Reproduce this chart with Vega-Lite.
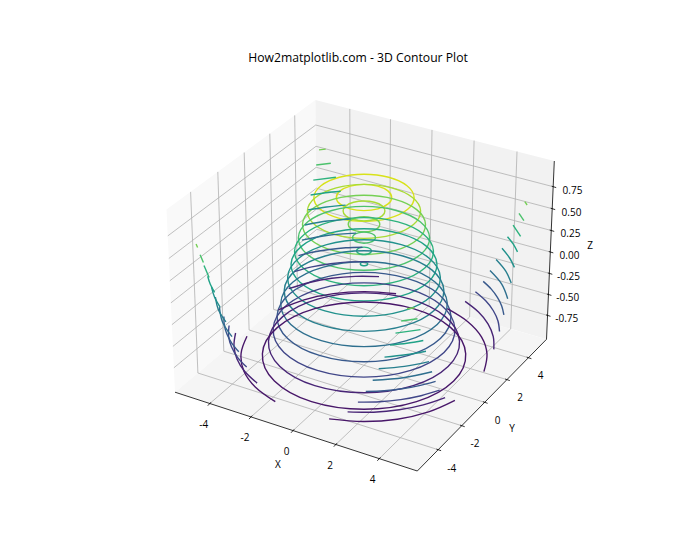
{"$schema":"https://vega.github.io/schema/vega-lite/v6.json","width":700,"height":560,"padding":0,"autosize":{"type":"none"},"background":"white",
"title":{"text":"How2matplotlib.com - 3D Contour Plot","fontSize":12.2,"fontWeight":"normal","color":"#000000","font":"Open Sans","anchor":"middle","dx":8,"offset":-64},
"config":{"view":{"stroke":null}},
"resolve":{"scale":{"color":"independent"}},
"datasets":{
"panes":[
{"p":"left","x":166.5,"y":209.5,"y2":209.5},{"p":"left","x":175,"y":203.3,"y2":392.2},{"p":"left","x":315.4,"y":100.1,"y2":274.3},{"p":"left","x":317.3,"y":272.7,"y2":272.7},
{"p":"back","x":315.4,"y":100.1,"y2":100.1},{"p":"back","x":317.3,"y":100.6,"y2":272.7},{"p":"back","x":546.5,"y":159,"y2":339.3},{"p":"back","x":554.3,"y":161,"y2":161},
{"p":"floor","x":175,"y":392.2,"y2":392.2},{"p":"floor","x":317.3,"y":272.7,"y2":438.5},{"p":"floor","x":417.3,"y":301.8,"y2":471},{"p":"floor","x":546.5,"y":339.3,"y2":339.3}],
"grid":[
{"g":"x-4","i":0,"x":209.8,"y":403.5},{"g":"x-4","i":1,"x":350.4,"y":282.3},{"g":"x-4","i":2,"x":349.8,"y":108.9},
{"g":"x-2","i":0,"x":251,"y":416.9},{"g":"x-2","i":1,"x":389.5,"y":293.7},{"g":"x-2","i":2,"x":390.5,"y":119.3},
{"g":"x0","i":0,"x":293,"y":430.6},{"g":"x0","i":1,"x":429.2,"y":305.3},{"g":"x0","i":2,"x":432,"y":129.9},
{"g":"x2","i":0,"x":335.8,"y":444.5},{"g":"x2","i":1,"x":469.6,"y":317},{"g":"x2","i":2,"x":474.1,"y":140.6},
{"g":"x4","i":0,"x":379.3,"y":458.6},{"g":"x4","i":1,"x":510.7,"y":328.9},{"g":"x4","i":2,"x":517,"y":151.5},
{"g":"y-4","i":0,"x":438.1,"y":449.7},{"g":"y-4","i":1,"x":197.9,"y":373},{"g":"y-4","i":2,"x":190.6,"y":191.9},
{"g":"y-2","i":0,"x":461.7,"y":425.7},{"g":"y-2","i":1,"x":223.8,"y":351.2},{"g":"y-2","i":2,"x":217.8,"y":171.9},
{"g":"y0","i":0,"x":484.6,"y":402.3},{"g":"y0","i":1,"x":249.1,"y":330},{"g":"y0","i":2,"x":244.2,"y":152.5},
{"g":"y2","i":0,"x":506.8,"y":379.6},{"g":"y2","i":1,"x":273.6,"y":309.4},{"g":"y2","i":2,"x":269.8,"y":133.7},
{"g":"y4","i":0,"x":528.4,"y":357.7},{"g":"y4","i":1,"x":297.4,"y":289.4},{"g":"y4","i":2,"x":294.7,"y":115.4},
{"g":"z.75","i":0,"x":167.8,"y":235.9},{"g":"z.75","i":1,"x":315.7,"y":125},{"g":"z.75","i":2,"x":553.2,"y":186.7},
{"g":"z.5","i":0,"x":168.8,"y":258.5},{"g":"z.5","i":1,"x":316,"y":146.3},{"g":"z.5","i":2,"x":552.2,"y":208.7},
{"g":"z.25","i":0,"x":169.8,"y":280.8},{"g":"z.25","i":1,"x":316.2,"y":167.3},{"g":"z.25","i":2,"x":551.2,"y":230.5},
{"g":"z0","i":0,"x":170.9,"y":302.9},{"g":"z0","i":1,"x":316.4,"y":188.2},{"g":"z0","i":2,"x":550.3,"y":252},
{"g":"z-.25","i":0,"x":171.9,"y":324.7},{"g":"z-.25","i":1,"x":316.7,"y":208.9},{"g":"z-.25","i":2,"x":549.3,"y":273.4},
{"g":"z-.5","i":0,"x":172.9,"y":346.4},{"g":"z-.5","i":1,"x":316.9,"y":229.3},{"g":"z-.5","i":2,"x":548.4,"y":294.5},
{"g":"z-.75","i":0,"x":173.9,"y":367.8},{"g":"z-.75","i":1,"x":317.1,"y":249.6},{"g":"z-.75","i":2,"x":547.5,"y":315.4}],
"axes":[
{"g":"X","i":0,"x":175,"y":392.2},{"g":"X","i":1,"x":417.3,"y":471},
{"g":"Y","i":0,"x":417.3,"y":471},{"g":"Y","i":1,"x":546.5,"y":339.3},
{"g":"Z","i":0,"x":546.5,"y":339.3},{"g":"Z","i":1,"x":554.3,"y":161},
{"g":"tx-4","i":0,"x":207.8,"y":405.7},{"g":"tx-4","i":1,"x":211,"y":402.2},
{"g":"tx-2","i":0,"x":249,"y":419.1},{"g":"tx-2","i":1,"x":252.2,"y":415.6},
{"g":"tx0","i":0,"x":291,"y":432.8},{"g":"tx0","i":1,"x":294.2,"y":429.3},
{"g":"tx2","i":0,"x":333.8,"y":446.7},{"g":"tx2","i":1,"x":337,"y":443.2},
{"g":"tx4","i":0,"x":377.3,"y":460.8},{"g":"tx4","i":1,"x":380.5,"y":457.3},
{"g":"ty-4","i":0,"x":436.4,"y":449.1},{"g":"ty-4","i":1,"x":441.1,"y":450.7},
{"g":"ty-2","i":0,"x":460,"y":425.1},{"g":"ty-2","i":1,"x":464.7,"y":426.7},
{"g":"ty0","i":0,"x":482.9,"y":401.7},{"g":"ty0","i":1,"x":487.6,"y":403.3},
{"g":"ty2","i":0,"x":505.1,"y":379},{"g":"ty2","i":1,"x":509.8,"y":380.6},
{"g":"ty4","i":0,"x":526.7,"y":357.1},{"g":"ty4","i":1,"x":531.4,"y":358.7},
{"g":"tz.75","i":0,"x":551.7,"y":186.2},{"g":"tz.75","i":1,"x":556.2,"y":187.6},
{"g":"tz.5","i":0,"x":550.7,"y":208.2},{"g":"tz.5","i":1,"x":555.2,"y":209.6},
{"g":"tz.25","i":0,"x":549.7,"y":230},{"g":"tz.25","i":1,"x":554.2,"y":231.4},
{"g":"tz0","i":0,"x":548.8,"y":251.5},{"g":"tz0","i":1,"x":553.3,"y":252.9},
{"g":"tz-.25","i":0,"x":547.8,"y":272.9},{"g":"tz-.25","i":1,"x":552.3,"y":274.3},
{"g":"tz-.5","i":0,"x":546.9,"y":294},{"g":"tz-.5","i":1,"x":551.4,"y":295.4},
{"g":"tz-.75","i":0,"x":546,"y":314.9},{"g":"tz-.75","i":1,"x":550.5,"y":316.3}],
"labels":[
{"t":"-4","x":203.7,"y":424.3},{"t":"-2","x":245,"y":437.3},{"t":"0","x":286.7,"y":451},{"t":"2","x":330,"y":465},{"t":"4","x":372.7,"y":479},{"t":"X","x":278,"y":464},
{"t":"-4","x":451.7,"y":468.3},{"t":"-2","x":475,"y":443.3},{"t":"0","x":497.7,"y":420},{"t":"2","x":520,"y":397.3},{"t":"4","x":540.7,"y":375},{"t":"Y","x":512,"y":428},
{"t":"0.75","x":572.5,"y":190},{"t":"0.50","x":571.5,"y":211.7},{"t":"0.25","x":570.5,"y":233},{"t":"0.00","x":569.5,"y":255},{"t":"-0.25","x":568.5,"y":276},{"t":"-0.50","x":567.7,"y":296.7},{"t":"-0.75","x":566.7,"y":318.3},{"t":"Z","x":590,"y":245}],
"contours":[
{"c":"a1","l":-0.9,"i":0,"x":483.9,"y":371.6},{"c":"a1","l":-0.9,"i":1,"x":487,"y":354.1},{"c":"a1","l":-0.9,"i":2,"x":481.6,"y":337.1},{"c":"a1","l":-0.9,"i":3,"x":467.8,"y":321.7},{"c":"a1","l":-0.9,"i":4,"x":447.3,"y":308.7},
{"c":"b1","l":-0.9,"i":0,"x":278.5,"y":309.8},{"c":"b1","l":-0.9,"i":1,"x":304.1,"y":299.8},{"c":"b1","l":-0.9,"i":2,"x":333.4,"y":293.6},{"c":"b1","l":-0.9,"i":3,"x":364.7,"y":291.6},{"c":"b1","l":-0.9,"i":4,"x":396.1,"y":293.8},
{"c":"d1","l":-0.9,"i":0,"x":247,"y":336.3},{"c":"d1","l":-0.9,"i":1,"x":241.1,"y":353.3},{"c":"d1","l":-0.9,"i":2,"x":243.7,"y":370.7},{"c":"d1","l":-0.9,"i":3,"x":255.5,"y":387.2},{"c":"d1","l":-0.9,"i":4,"x":275.3,"y":401.7},
{"c":"f1","l":-0.9,"i":0,"x":454.9,"y":400.4},{"c":"f1","l":-0.9,"i":1,"x":428.6,"y":411.9},{"c":"f1","l":-0.9,"i":2,"x":397.3,"y":419.2},{"c":"f1","l":-0.9,"i":3,"x":363.2,"y":421.5},{"c":"f1","l":-0.9,"i":4,"x":329.1,"y":418.9},
{"c":"a2","l":-0.75,"i":0,"x":493.8,"y":349.4},{"c":"a2","l":-0.75,"i":1,"x":493.2,"y":336.4},{"c":"a2","l":-0.75,"i":2,"x":488,"y":323.8},{"c":"a2","l":-0.75,"i":3,"x":478.5,"y":312},{"c":"a2","l":-0.75,"i":4,"x":465.1,"y":301.4},
{"c":"b2","l":-0.75,"i":0,"x":288.7,"y":288.7},{"c":"b2","l":-0.75,"i":1,"x":309.4,"y":282.5},{"c":"b2","l":-0.75,"i":2,"x":331.8,"y":278.3},{"c":"b2","l":-0.75,"i":3,"x":355.3,"y":276.4},{"c":"b2","l":-0.75,"i":4,"x":379,"y":276.6},
{"c":"d2","l":-0.75,"i":0,"x":235.6,"y":333},{"c":"d2","l":-0.75,"i":1,"x":234,"y":345.9},{"c":"d2","l":-0.75,"i":2,"x":237,"y":358.9},{"c":"d2","l":-0.75,"i":3,"x":244.8,"y":371.5},{"c":"d2","l":-0.75,"i":4,"x":257.1,"y":383.1},
{"c":"f2","l":-0.75,"i":0,"x":445.1,"y":397.6},{"c":"f2","l":-0.75,"i":1,"x":423.3,"y":404.9},{"c":"f2","l":-0.75,"i":2,"x":399.2,"y":409.8},{"c":"f2","l":-0.75,"i":3,"x":373.6,"y":412.2},{"c":"f2","l":-0.75,"i":4,"x":347.6,"y":411.9},
{"c":"a3","l":-0.6,"i":0,"x":499.5,"y":331.5},{"c":"a3","l":-0.6,"i":1,"x":497.9,"y":320.8},{"c":"a3","l":-0.6,"i":2,"x":493.2,"y":310.5},{"c":"a3","l":-0.6,"i":3,"x":485.7,"y":300.8},{"c":"a3","l":-0.6,"i":4,"x":475.4,"y":291.8},
{"c":"b3","l":-0.6,"i":0,"x":294.3,"y":271.6},{"c":"b3","l":-0.6,"i":1,"x":311.8,"y":266.9},{"c":"b3","l":-0.6,"i":2,"x":330.5,"y":263.7},{"c":"b3","l":-0.6,"i":3,"x":349.9,"y":261.9},{"c":"b3","l":-0.6,"i":4,"x":369.5,"y":261.6},
{"c":"d3","l":-0.6,"i":0,"x":229.1,"y":325.5},{"c":"d3","l":-0.6,"i":1,"x":228.6,"y":336.2},{"c":"d3","l":-0.6,"i":2,"x":231.5,"y":346.8},{"c":"d3","l":-0.6,"i":3,"x":237.5,"y":357.3},{"c":"d3","l":-0.6,"i":4,"x":246.7,"y":367.1},
{"c":"f3","l":-0.6,"i":0,"x":439.7,"y":390.2},{"c":"f3","l":-0.6,"i":1,"x":421,"y":395.7},{"c":"f3","l":-0.6,"i":2,"x":400.7,"y":399.6},{"c":"f3","l":-0.6,"i":3,"x":379.6,"y":401.8},{"c":"f3","l":-0.6,"i":4,"x":357.9,"y":402.1},
{"c":"a4","l":-0.45,"i":0,"x":503.9,"y":314.8},{"c":"a4","l":-0.45,"i":1,"x":501.7,"y":305.9},{"c":"a4","l":-0.45,"i":2,"x":497.4,"y":297.3},{"c":"a4","l":-0.45,"i":3,"x":491.3,"y":289.1},{"c":"a4","l":-0.45,"i":4,"x":483.2,"y":281.4},
{"c":"b4","l":-0.45,"i":0,"x":298.4,"y":255.6},{"c":"b4","l":-0.45,"i":1,"x":313.6,"y":252},{"c":"b4","l":-0.45,"i":2,"x":329.5,"y":249.5},{"c":"b4","l":-0.45,"i":3,"x":345.7,"y":247.8},{"c":"b4","l":-0.45,"i":4,"x":362.4,"y":247.2},
{"c":"d4","l":-0.45,"i":0,"x":223.9,"y":316.6},{"c":"d4","l":-0.45,"i":1,"x":224.4,"y":325.6},{"c":"d4","l":-0.45,"i":2,"x":227.1,"y":334.6},{"c":"d4","l":-0.45,"i":3,"x":231.9,"y":343.3},{"c":"d4","l":-0.45,"i":4,"x":238.8,"y":351.8},
{"c":"f4","l":-0.45,"i":0,"x":435.6,"y":381.4},{"c":"f4","l":-0.45,"i":1,"x":419.3,"y":385.6},{"c":"f4","l":-0.45,"i":2,"x":402,"y":388.7},{"c":"f4","l":-0.45,"i":3,"x":384.2,"y":390.7},{"c":"f4","l":-0.45,"i":4,"x":365.8,"y":391.4},
{"c":"a5","l":-0.3,"i":0,"x":507.7,"y":298.7},{"c":"a5","l":-0.3,"i":1,"x":501.7,"y":284.1},{"c":"a5","l":-0.3,"i":2,"x":490,"y":270.6},
{"c":"b5","l":-0.3,"i":0,"x":301.9,"y":240.1},{"c":"b5","l":-0.3,"i":1,"x":328.4,"y":235.2},{"c":"b5","l":-0.3,"i":2,"x":356.2,"y":233.1},
{"c":"d5","l":-0.3,"i":0,"x":219.4,"y":307.1},{"c":"d5","l":-0.3,"i":1,"x":222.6,"y":322.2},{"c":"d5","l":-0.3,"i":2,"x":232,"y":336.7},
{"c":"f5","l":-0.3,"i":0,"x":432.1,"y":371.7},{"c":"f5","l":-0.3,"i":1,"x":403.3,"y":377.7},{"c":"f5","l":-0.3,"i":2,"x":372.7,"y":380.3},
{"c":"a6","l":-0.15,"i":0,"x":511.2,"y":283},{"c":"a6","l":-0.15,"i":1,"x":505.6,"y":270.8},{"c":"a6","l":-0.15,"i":2,"x":496.1,"y":259.4},
{"c":"b6","l":-0.15,"i":0,"x":305,"y":225},{"c":"b6","l":-0.15,"i":1,"x":327.4,"y":221},{"c":"b6","l":-0.15,"i":2,"x":350.8,"y":219.1},
{"c":"d6","l":-0.15,"i":0,"x":215.4,"y":297},{"c":"d6","l":-0.15,"i":1,"x":218.4,"y":309.7},{"c":"d6","l":-0.15,"i":2,"x":225.9,"y":321.9},
{"c":"f6","l":-0.15,"i":0,"x":429,"y":361.6},{"c":"f6","l":-0.15,"i":1,"x":404.5,"y":366.4},{"c":"f6","l":-0.15,"i":2,"x":378.7,"y":368.8},
{"c":"a7","l":0,"i":0,"x":514.4,"y":267.4},{"c":"a7","l":0,"i":1,"x":509.3,"y":257.5},{"c":"a7","l":0,"i":2,"x":502,"y":248.2},
{"c":"b7","l":0,"i":0,"x":307.9,"y":209.9},{"c":"b7","l":0,"i":1,"x":326.5,"y":207},{"c":"b7","l":0,"i":2,"x":345.6,"y":205.1},
{"c":"d7","l":0,"i":0,"x":211.5,"y":286.8},{"c":"d7","l":0,"i":1,"x":214.5,"y":297},{"c":"d7","l":0,"i":2,"x":220.1,"y":307.1},
{"c":"f7","l":0,"i":0,"x":426,"y":351.2},{"c":"f7","l":0,"i":1,"x":405.7,"y":354.8},{"c":"f7","l":0,"i":2,"x":384.5,"y":357.1},
{"c":"a8","l":0.15,"i":0,"x":517.5,"y":251.9},{"c":"a8","l":0.15,"i":1,"x":513.3,"y":244.1},{"c":"a8","l":0.15,"i":2,"x":507.5,"y":236.7},
{"c":"b8","l":0.15,"i":0,"x":310.6,"y":195},{"c":"b8","l":0.15,"i":1,"x":325.5,"y":192.7},{"c":"b8","l":0.15,"i":2,"x":340.7,"y":191.2},
{"c":"d8","l":0.15,"i":0,"x":207.7,"y":276.2},{"c":"d8","l":0.15,"i":1,"x":210.3,"y":284.3},{"c":"d8","l":0.15,"i":2,"x":214.6,"y":292.3},
{"c":"f8","l":0.15,"i":0,"x":423.3,"y":340.5},{"c":"f8","l":0.15,"i":1,"x":406.9,"y":343.3},{"c":"f8","l":0.15,"i":2,"x":390,"y":345.1},
{"c":"a9","l":0.3,"i":0,"x":520.6,"y":236.4},{"c":"a9","l":0.3,"i":1,"x":513.1,"y":225.1},
{"c":"b9","l":0.3,"i":0,"x":313.3,"y":180.1},{"c":"b9","l":0.3,"i":1,"x":335.9,"y":177.3},
{"c":"d9","l":0.3,"i":0,"x":204,"y":265.5},{"c":"d9","l":0.3,"i":1,"x":209.1,"y":277.5},
{"c":"f9","l":0.3,"i":0,"x":420.5,"y":329.6},{"c":"f9","l":0.3,"i":1,"x":395.5,"y":333.1},
{"c":"a10","l":0.45,"i":0,"x":523.9,"y":220.7},{"c":"a10","l":0.45,"i":1,"x":519,"y":213.4},
{"c":"b10","l":0.45,"i":0,"x":316.2,"y":165},{"c":"b10","l":0.45,"i":1,"x":330.8,"y":163.2},
{"c":"d10","l":0.45,"i":0,"x":200.1,"y":254.8},{"c":"d10","l":0.45,"i":1,"x":203.4,"y":262.6},
{"c":"f10","l":0.45,"i":0,"x":417.5,"y":318.8},{"c":"f10","l":0.45,"i":1,"x":401.2,"y":321},
{"c":"a11","l":0.6,"i":0,"x":527.1,"y":205},{"c":"a11","l":0.6,"i":1,"x":524.8,"y":201.7},
{"c":"b11","l":0.6,"i":0,"x":319,"y":149.9},{"c":"b11","l":0.6,"i":1,"x":325.7,"y":149.1},
{"c":"d11","l":0.6,"i":0,"x":196.1,"y":244},{"c":"d11","l":0.6,"i":1,"x":197.6,"y":247.5},
{"c":"f11","l":0.6,"i":0,"x":414.5,"y":307.8},{"c":"f11","l":0.6,"i":1,"x":407.1,"y":308.8}],
"rings":[
{"c":"o90","l":0.9,"i":0,"x":414.1,"y":197.4},{"c":"o90","l":0.9,"i":1,"x":407,"y":185.7},{"c":"o90","l":0.9,"i":2,"x":388.7,"y":177.2},{"c":"o90","l":0.9,"i":3,"x":364,"y":174.2},{"c":"o90","l":0.9,"i":4,"x":339.4,"y":177.2},{"c":"o90","l":0.9,"i":5,"x":321,"y":185.7},{"c":"o90","l":0.9,"i":6,"x":313.9,"y":197.4},{"c":"o90","l":0.9,"i":7,"x":320.3,"y":209.3},{"c":"o90","l":0.9,"i":8,"x":338.6,"y":218.1},{"c":"o90","l":0.9,"i":9,"x":364,"y":221.4},{"c":"o90","l":0.9,"i":10,"x":389.4,"y":218.1},{"c":"o90","l":0.9,"i":11,"x":407.7,"y":209.3},
{"c":"i90","l":0.9,"i":0,"x":391.7,"y":197.4},{"c":"i90","l":0.9,"i":1,"x":387.9,"y":190.9},{"c":"i90","l":0.9,"i":2,"x":377.7,"y":186.1},{"c":"i90","l":0.9,"i":3,"x":364,"y":184.4},{"c":"i90","l":0.9,"i":4,"x":350.3,"y":186.1},{"c":"i90","l":0.9,"i":5,"x":340.1,"y":190.9},{"c":"i90","l":0.9,"i":6,"x":336.3,"y":197.4},{"c":"i90","l":0.9,"i":7,"x":339.9,"y":203.9},{"c":"i90","l":0.9,"i":8,"x":350,"y":208.8},{"c":"i90","l":0.9,"i":9,"x":364,"y":210.6},{"c":"i90","l":0.9,"i":10,"x":378,"y":208.8},{"c":"i90","l":0.9,"i":11,"x":388.1,"y":203.9},
{"c":"o75","l":0.75,"i":0,"x":420.6,"y":210.9},{"c":"o75","l":0.75,"i":1,"x":412.5,"y":197.5},{"c":"o75","l":0.75,"i":2,"x":391.8,"y":187.9},{"c":"o75","l":0.75,"i":3,"x":364,"y":184.4},{"c":"o75","l":0.75,"i":4,"x":336.2,"y":187.9},{"c":"o75","l":0.75,"i":5,"x":315.5,"y":197.5},{"c":"o75","l":0.75,"i":6,"x":307.4,"y":210.9},{"c":"o75","l":0.75,"i":7,"x":314.5,"y":224.5},{"c":"o75","l":0.75,"i":8,"x":335.2,"y":234.6},{"c":"o75","l":0.75,"i":9,"x":364,"y":238.4},{"c":"o75","l":0.75,"i":10,"x":392.8,"y":234.6},{"c":"o75","l":0.75,"i":11,"x":413.5,"y":224.5},
{"c":"i75","l":0.75,"i":0,"x":384.9,"y":210.9},{"c":"i75","l":0.75,"i":1,"x":382.1,"y":205.9},{"c":"i75","l":0.75,"i":2,"x":374.4,"y":202.3},{"c":"i75","l":0.75,"i":3,"x":364,"y":201},{"c":"i75","l":0.75,"i":4,"x":353.6,"y":202.3},{"c":"i75","l":0.75,"i":5,"x":345.9,"y":205.9},{"c":"i75","l":0.75,"i":6,"x":343.1,"y":210.9},{"c":"i75","l":0.75,"i":7,"x":345.8,"y":215.9},{"c":"i75","l":0.75,"i":8,"x":353.5,"y":219.5},{"c":"i75","l":0.75,"i":9,"x":364,"y":220.9},{"c":"i75","l":0.75,"i":10,"x":374.5,"y":219.5},{"c":"i75","l":0.75,"i":11,"x":382.2,"y":215.9},
{"c":"o60","l":0.6,"i":0,"x":425.5,"y":224.2},{"c":"o60","l":0.6,"i":1,"x":416.7,"y":209.6},{"c":"o60","l":0.6,"i":2,"x":394.2,"y":199.1},{"c":"o60","l":0.6,"i":3,"x":364,"y":195.3},{"c":"o60","l":0.6,"i":4,"x":333.8,"y":199.1},{"c":"o60","l":0.6,"i":5,"x":311.4,"y":209.6},{"c":"o60","l":0.6,"i":6,"x":302.5,"y":224.2},{"c":"o60","l":0.6,"i":7,"x":310.2,"y":239.2},{"c":"o60","l":0.6,"i":8,"x":332.7,"y":250.4},{"c":"o60","l":0.6,"i":9,"x":364,"y":254.5},{"c":"o60","l":0.6,"i":10,"x":395.3,"y":250.4},{"c":"o60","l":0.6,"i":11,"x":417.8,"y":239.2},
{"c":"i60","l":0.6,"i":0,"x":379.8,"y":224.2},{"c":"i60","l":0.6,"i":1,"x":377.7,"y":220.4},{"c":"i60","l":0.6,"i":2,"x":371.9,"y":217.7},{"c":"i60","l":0.6,"i":3,"x":364,"y":216.7},{"c":"i60","l":0.6,"i":4,"x":356.1,"y":217.7},{"c":"i60","l":0.6,"i":5,"x":350.3,"y":220.4},{"c":"i60","l":0.6,"i":6,"x":348.2,"y":224.2},{"c":"i60","l":0.6,"i":7,"x":350.3,"y":228.1},{"c":"i60","l":0.6,"i":8,"x":356,"y":230.9},{"c":"i60","l":0.6,"i":9,"x":364,"y":231.9},{"c":"i60","l":0.6,"i":10,"x":372,"y":230.9},{"c":"i60","l":0.6,"i":11,"x":377.8,"y":228.1},
{"c":"o45","l":0.45,"i":0,"x":429.6,"y":237.6},{"c":"o45","l":0.45,"i":1,"x":420.2,"y":221.8},{"c":"o45","l":0.45,"i":2,"x":396.2,"y":210.5},{"c":"o45","l":0.45,"i":3,"x":364,"y":206.4},{"c":"o45","l":0.45,"i":4,"x":331.9,"y":210.5},{"c":"o45","l":0.45,"i":5,"x":307.8,"y":221.8},{"c":"o45","l":0.45,"i":6,"x":298.4,"y":237.6},{"c":"o45","l":0.45,"i":7,"x":306.5,"y":253.7},{"c":"o45","l":0.45,"i":8,"x":330.5,"y":265.8},{"c":"o45","l":0.45,"i":9,"x":364,"y":270.2},{"c":"o45","l":0.45,"i":10,"x":397.5,"y":265.8},{"c":"o45","l":0.45,"i":11,"x":421.5,"y":253.7},
{"c":"i45","l":0.45,"i":0,"x":375.5,"y":237.6},{"c":"i45","l":0.45,"i":1,"x":373.9,"y":234.8},{"c":"i45","l":0.45,"i":2,"x":369.7,"y":232.8},{"c":"i45","l":0.45,"i":3,"x":364,"y":232},{"c":"i45","l":0.45,"i":4,"x":358.3,"y":232.8},{"c":"i45","l":0.45,"i":5,"x":354.1,"y":234.8},{"c":"i45","l":0.45,"i":6,"x":352.6,"y":237.6},{"c":"i45","l":0.45,"i":7,"x":354.1,"y":240.4},{"c":"i45","l":0.45,"i":8,"x":358.3,"y":242.4},{"c":"i45","l":0.45,"i":9,"x":364,"y":243.2},{"c":"i45","l":0.45,"i":10,"x":369.7,"y":242.4},{"c":"i45","l":0.45,"i":11,"x":373.9,"y":240.4},
{"c":"o30","l":0.3,"i":0,"x":433.4,"y":250.8},{"c":"o30","l":0.3,"i":1,"x":423.3,"y":234},{"c":"o30","l":0.3,"i":2,"x":398,"y":221.9},{"c":"o30","l":0.3,"i":3,"x":364,"y":217.6},{"c":"o30","l":0.3,"i":4,"x":330,"y":221.9},{"c":"o30","l":0.3,"i":5,"x":304.7,"y":234},{"c":"o30","l":0.3,"i":6,"x":294.6,"y":250.8},{"c":"o30","l":0.3,"i":7,"x":303.2,"y":268},{"c":"o30","l":0.3,"i":8,"x":328.6,"y":280.9},{"c":"o30","l":0.3,"i":9,"x":364,"y":285.7},{"c":"o30","l":0.3,"i":10,"x":399.4,"y":280.9},{"c":"o30","l":0.3,"i":11,"x":424.8,"y":268},
{"c":"i30","l":0.3,"i":0,"x":371.5,"y":250.8},{"c":"i30","l":0.3,"i":1,"x":370.4,"y":249},{"c":"i30","l":0.3,"i":2,"x":367.7,"y":247.6},{"c":"i30","l":0.3,"i":3,"x":364,"y":247.1},{"c":"i30","l":0.3,"i":4,"x":360.3,"y":247.6},{"c":"i30","l":0.3,"i":5,"x":357.6,"y":249},{"c":"i30","l":0.3,"i":6,"x":356.6,"y":250.8},{"c":"i30","l":0.3,"i":7,"x":357.5,"y":252.6},{"c":"i30","l":0.3,"i":8,"x":360.3,"y":254},{"c":"i30","l":0.3,"i":9,"x":364,"y":254.5},{"c":"i30","l":0.3,"i":10,"x":367.7,"y":254},{"c":"i30","l":0.3,"i":11,"x":370.5,"y":252.6},
{"c":"o15","l":0.15,"i":0,"x":436.9,"y":263.9},{"c":"o15","l":0.15,"i":1,"x":426.3,"y":246.1},{"c":"o15","l":0.15,"i":2,"x":399.7,"y":233.4},{"c":"o15","l":0.15,"i":3,"x":364,"y":228.7},{"c":"o15","l":0.15,"i":4,"x":328.4,"y":233.4},{"c":"o15","l":0.15,"i":5,"x":301.7,"y":246.1},{"c":"o15","l":0.15,"i":6,"x":291.1,"y":263.9},{"c":"o15","l":0.15,"i":7,"x":300,"y":282.2},{"c":"o15","l":0.15,"i":8,"x":326.7,"y":295.9},{"c":"o15","l":0.15,"i":9,"x":364,"y":301},{"c":"o15","l":0.15,"i":10,"x":401.3,"y":295.9},{"c":"o15","l":0.15,"i":11,"x":428,"y":282.2},
{"c":"i15","l":0.15,"i":0,"x":367.7,"y":263.9},{"c":"i15","l":0.15,"i":1,"x":367.2,"y":263},{"c":"i15","l":0.15,"i":2,"x":365.8,"y":262.4},{"c":"i15","l":0.15,"i":3,"x":364,"y":262.1},{"c":"i15","l":0.15,"i":4,"x":362.2,"y":262.4},{"c":"i15","l":0.15,"i":5,"x":360.8,"y":263},{"c":"i15","l":0.15,"i":6,"x":360.3,"y":263.9},{"c":"i15","l":0.15,"i":7,"x":360.8,"y":264.9},{"c":"i15","l":0.15,"i":8,"x":362.2,"y":265.5},{"c":"i15","l":0.15,"i":9,"x":364,"y":265.8},{"c":"i15","l":0.15,"i":10,"x":365.8,"y":265.5},{"c":"i15","l":0.15,"i":11,"x":367.2,"y":264.9},
{"c":"o00","l":0,"i":0,"x":440.3,"y":277},{"c":"o00","l":0,"i":1,"x":429.2,"y":258.2},{"c":"o00","l":0,"i":2,"x":401.3,"y":244.7},{"c":"o00","l":0,"i":3,"x":364,"y":239.8},{"c":"o00","l":0,"i":4,"x":326.7,"y":244.7},{"c":"o00","l":0,"i":5,"x":298.8,"y":258.2},{"c":"o00","l":0,"i":6,"x":287.7,"y":277},{"c":"o00","l":0,"i":7,"x":297,"y":296.4},{"c":"o00","l":0,"i":8,"x":324.9,"y":310.9},{"c":"o00","l":0,"i":9,"x":364,"y":316.2},{"c":"o00","l":0,"i":10,"x":403.1,"y":310.9},{"c":"o00","l":0,"i":11,"x":431,"y":296.4},
{"c":"n15","l":-0.15,"i":0,"x":443.8,"y":290},{"c":"n15","l":-0.15,"i":1,"x":432.1,"y":270.1},{"c":"n15","l":-0.15,"i":2,"x":402.9,"y":256},{"c":"n15","l":-0.15,"i":3,"x":364,"y":250.8},{"c":"n15","l":-0.15,"i":4,"x":325.1,"y":256},{"c":"n15","l":-0.15,"i":5,"x":295.9,"y":270.1},{"c":"n15","l":-0.15,"i":6,"x":284.3,"y":290},{"c":"n15","l":-0.15,"i":7,"x":293.9,"y":310.4},{"c":"n15","l":-0.15,"i":8,"x":323.1,"y":325.7},{"c":"n15","l":-0.15,"i":9,"x":364,"y":331.4},{"c":"n15","l":-0.15,"i":10,"x":404.9,"y":325.7},{"c":"n15","l":-0.15,"i":11,"x":434.1,"y":310.4},
{"c":"n30","l":-0.3,"i":0,"x":447.2,"y":302.9},{"c":"n30","l":-0.3,"i":1,"x":435,"y":282},{"c":"n30","l":-0.3,"i":2,"x":404.6,"y":267.1},{"c":"n30","l":-0.3,"i":3,"x":364,"y":261.7},{"c":"n30","l":-0.3,"i":4,"x":323.4,"y":267.1},{"c":"n30","l":-0.3,"i":5,"x":293,"y":282},{"c":"n30","l":-0.3,"i":6,"x":280.8,"y":302.9},{"c":"n30","l":-0.3,"i":7,"x":290.8,"y":324.4},{"c":"n30","l":-0.3,"i":8,"x":321.3,"y":340.6},{"c":"n30","l":-0.3,"i":9,"x":364,"y":346.6},{"c":"n30","l":-0.3,"i":10,"x":406.7,"y":340.6},{"c":"n30","l":-0.3,"i":11,"x":437.2,"y":324.4},
{"c":"n45","l":-0.45,"i":0,"x":450.9,"y":315.7},{"c":"n45","l":-0.45,"i":1,"x":438.1,"y":293.7},{"c":"n45","l":-0.45,"i":2,"x":406.3,"y":278.1},{"c":"n45","l":-0.45,"i":3,"x":364,"y":272.4},{"c":"n45","l":-0.45,"i":4,"x":321.7,"y":278.1},{"c":"n45","l":-0.45,"i":5,"x":289.9,"y":293.7},{"c":"n45","l":-0.45,"i":6,"x":277.1,"y":315.7},{"c":"n45","l":-0.45,"i":7,"x":287.6,"y":338.4},{"c":"n45","l":-0.45,"i":8,"x":319.4,"y":355.4},{"c":"n45","l":-0.45,"i":9,"x":364,"y":361.8},{"c":"n45","l":-0.45,"i":10,"x":408.6,"y":355.4},{"c":"n45","l":-0.45,"i":11,"x":440.4,"y":338.4},
{"c":"n60","l":-0.6,"i":0,"x":454.9,"y":328.5},{"c":"n60","l":-0.6,"i":1,"x":441.4,"y":305.3},{"c":"n60","l":-0.6,"i":2,"x":408.2,"y":288.8},{"c":"n60","l":-0.6,"i":3,"x":364,"y":282.9},{"c":"n60","l":-0.6,"i":4,"x":319.8,"y":288.8},{"c":"n60","l":-0.6,"i":5,"x":286.6,"y":305.3},{"c":"n60","l":-0.6,"i":6,"x":273.2,"y":328.5},{"c":"n60","l":-0.6,"i":7,"x":284,"y":352.4},{"c":"n60","l":-0.6,"i":8,"x":317.3,"y":370.4},{"c":"n60","l":-0.6,"i":9,"x":364,"y":377.1},{"c":"n60","l":-0.6,"i":10,"x":410.7,"y":370.4},{"c":"n60","l":-0.6,"i":11,"x":444,"y":352.4},
{"c":"n75","l":-0.75,"i":0,"x":459.5,"y":341.1},{"c":"n75","l":-0.75,"i":1,"x":445.3,"y":316.6},{"c":"n75","l":-0.75,"i":2,"x":410.4,"y":299.1},{"c":"n75","l":-0.75,"i":3,"x":364,"y":292.9},{"c":"n75","l":-0.75,"i":4,"x":317.6,"y":299.1},{"c":"n75","l":-0.75,"i":5,"x":282.7,"y":316.6},{"c":"n75","l":-0.75,"i":6,"x":268.5,"y":341.1},{"c":"n75","l":-0.75,"i":7,"x":279.9,"y":366.5},{"c":"n75","l":-0.75,"i":8,"x":314.8,"y":385.7},{"c":"n75","l":-0.75,"i":9,"x":364,"y":392.8},{"c":"n75","l":-0.75,"i":10,"x":413.2,"y":385.7},{"c":"n75","l":-0.75,"i":11,"x":448.1,"y":366.5},
{"c":"n90","l":-0.9,"i":0,"x":465.7,"y":353.7},{"c":"n90","l":-0.9,"i":1,"x":450.5,"y":327.4},{"c":"n90","l":-0.9,"i":2,"x":413.3,"y":308.7},{"c":"n90","l":-0.9,"i":3,"x":364,"y":302},{"c":"n90","l":-0.9,"i":4,"x":314.7,"y":308.7},{"c":"n90","l":-0.9,"i":5,"x":277.5,"y":327.4},{"c":"n90","l":-0.9,"i":6,"x":262.4,"y":353.7},{"c":"n90","l":-0.9,"i":7,"x":274.4,"y":381},{"c":"n90","l":-0.9,"i":8,"x":311.5,"y":401.7},{"c":"n90","l":-0.9,"i":9,"x":364,"y":409.3},{"c":"n90","l":-0.9,"i":10,"x":416.5,"y":401.7},{"c":"n90","l":-0.9,"i":11,"x":453.7,"y":381}]
},
"encoding":{
"x":{"field":"x","type":"quantitative","scale":{"domain":[0,700],"nice":false,"zero":false},"axis":null},
"y":{"field":"y","type":"quantitative","scale":{"domain":[560,0],"nice":false,"zero":false},"axis":null}
},
"layer":[
{"data":{"name":"panes"},"mark":{"type":"area","opacity":1},"encoding":{"y":{"field":"y","type":"quantitative","stack":null,"scale":{"domain":[560,0],"nice":false,"zero":false},"axis":null},"y2":{"field":"y2"},"color":{"field":"p","type":"nominal","scale":{"domain":["left","back","floor"],"range":["#f9f9f9","#f2f2f2","#f5f5f5"]},"legend":null}}},
{"data":{"name":"grid"},"mark":{"type":"line","color":"#b0b0b0","strokeWidth":0.8},"encoding":{"detail":{"field":"g"},"order":{"field":"i"}}},
{"data":{"name":"axes"},"mark":{"type":"line","color":"#000000","strokeWidth":0.8},"encoding":{"detail":{"field":"g"},"order":{"field":"i"}}},
{"data":{"name":"rings"},"mark":{"type":"line","strokeWidth":1.4,"interpolate":"cardinal-closed"},"encoding":{"detail":{"field":"c"},"order":{"field":"i"},"color":{"field":"l","type":"ordinal","scale":{"domain":[-0.9,-0.75,-0.6,-0.45,-0.3,-0.15,0,0.15,0.3,0.45,0.6,0.75,0.9],"range":["#481769","#482576","#404688","#38598c","#2e6f8e","#277f8e","#21918c","#1fa287","#2db27d","#4cc26c","#75d054","#a8db34","#d8e219"]},"legend":null}}},
{"data":{"name":"contours"},"mark":{"type":"line","strokeWidth":1.4,"interpolate":"cardinal"},"encoding":{"detail":{"field":"c"},"order":{"field":"i"},"color":{"field":"l","type":"ordinal","scale":{"domain":[-0.9,-0.75,-0.6,-0.45,-0.3,-0.15,0,0.15,0.3,0.45,0.6,0.75,0.9],"range":["#481769","#482576","#404688","#38598c","#2e6f8e","#277f8e","#21918c","#1fa287","#2db27d","#4cc26c","#75d054","#a8db34","#d8e219"]},"legend":null}}},
{"data":{"name":"labels"},"mark":{"type":"text","fontSize":10,"font":"Open Sans","color":"#000000","align":"center","baseline":"middle","dy":1},"encoding":{"text":{"field":"t"}}}
]}
